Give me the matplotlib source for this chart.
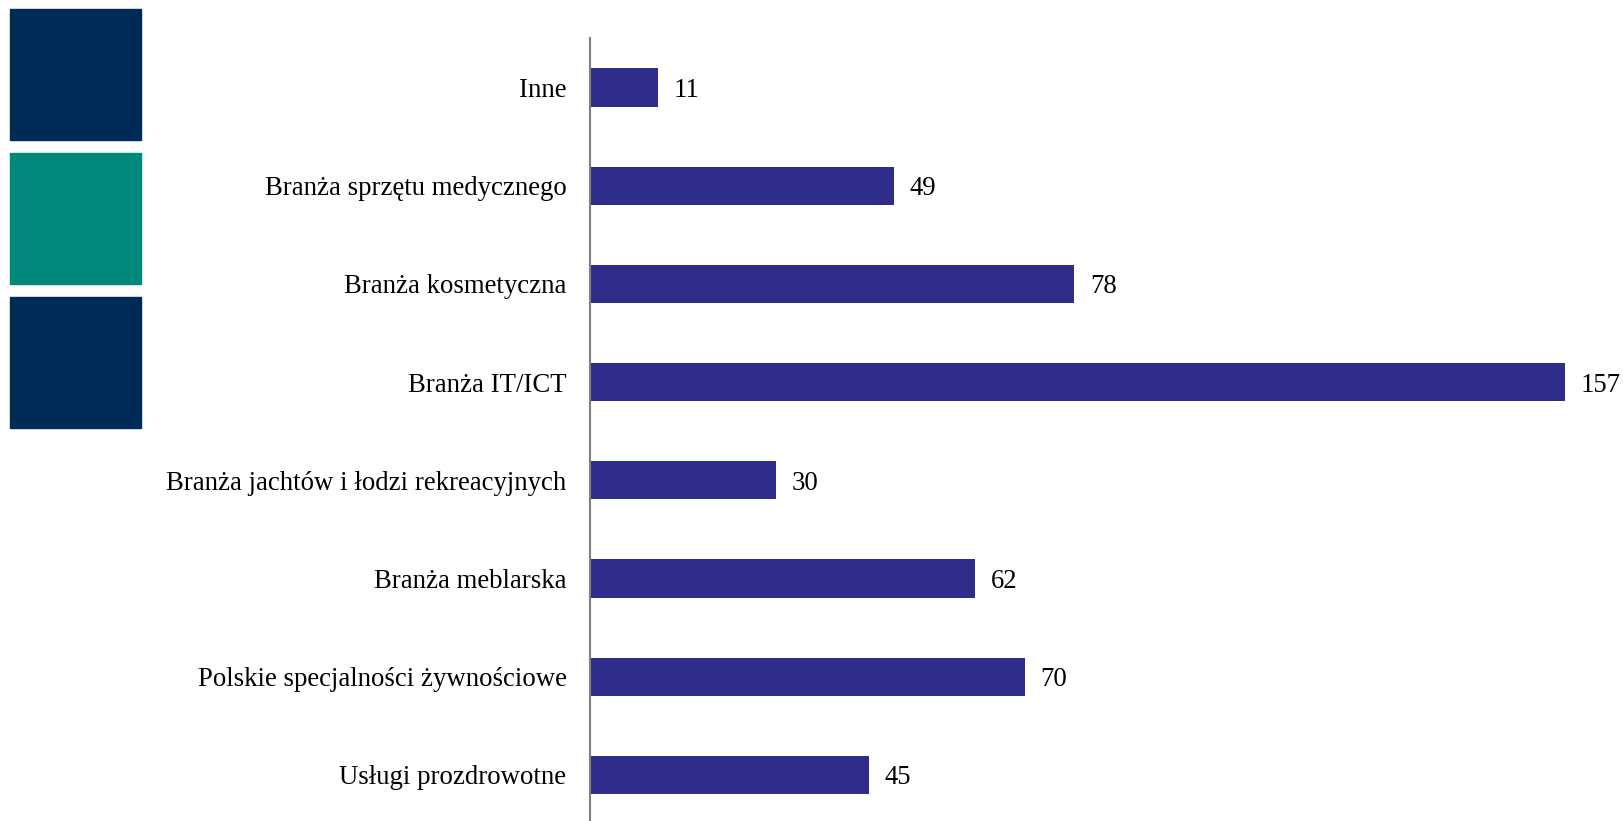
import matplotlib.pyplot as plt
from matplotlib.patches import Rectangle

categories = ["Inne", "Branża sprzętu medycznego", "Branża kosmetyczna", "Branża IT/ICT",
              "Branża jachtów i łodzi rekreacyjnych", "Branża meblarska",
              "Polskie specjalności żywnościowe", "Usługi prozdrowotne"]
values = [11, 49, 78, 157, 30, 62, 70, 45]

plt.rcParams['font.family'] = ['Liberation Serif', 'DejaVu Serif']

W, H = 1624, 821
fig = plt.figure(figsize=(W / 100, H / 100), dpi=100)

# decorative squares on the left
for y0, y1, c in [(9, 140, "#002B57"), (153, 284, "#00897A"), (297, 428, "#002B57")]:
    fig.patches.append(Rectangle((10 / W, 1 - y1 / H), 131 / W, (y1 - y0) / H,
                                 transform=fig.transFigure, color=c))

ax = fig.add_axes([590 / W, 0, 1 - 590 / W, 1 - 38.4 / H])
pos = range(len(categories))
ax.barh(pos, values, height=0.39, color="#2E2E8A")
for p, v in zip(pos, values):
    ax.text(v + 2.5, p, str(v), va="center_baseline", ha="left", fontsize=19.3)

ax.set_yticks(list(pos))
ax.set_yticklabels(categories, fontsize=19.3, va="center_baseline")
ax.set_ylim(7.47, -0.5)
ax.set_xlim(0, 1034 / 6.21)
ax.tick_params(axis="y", length=0, pad=17)
ax.set_xticks([])
for s in ["top", "right", "bottom"]:
    ax.spines[s].set_visible(False)
ax.spines["left"].set_color("#808080")
ax.spines["left"].set_linewidth(1.5)

fig.savefig("out.png", dpi=100)
